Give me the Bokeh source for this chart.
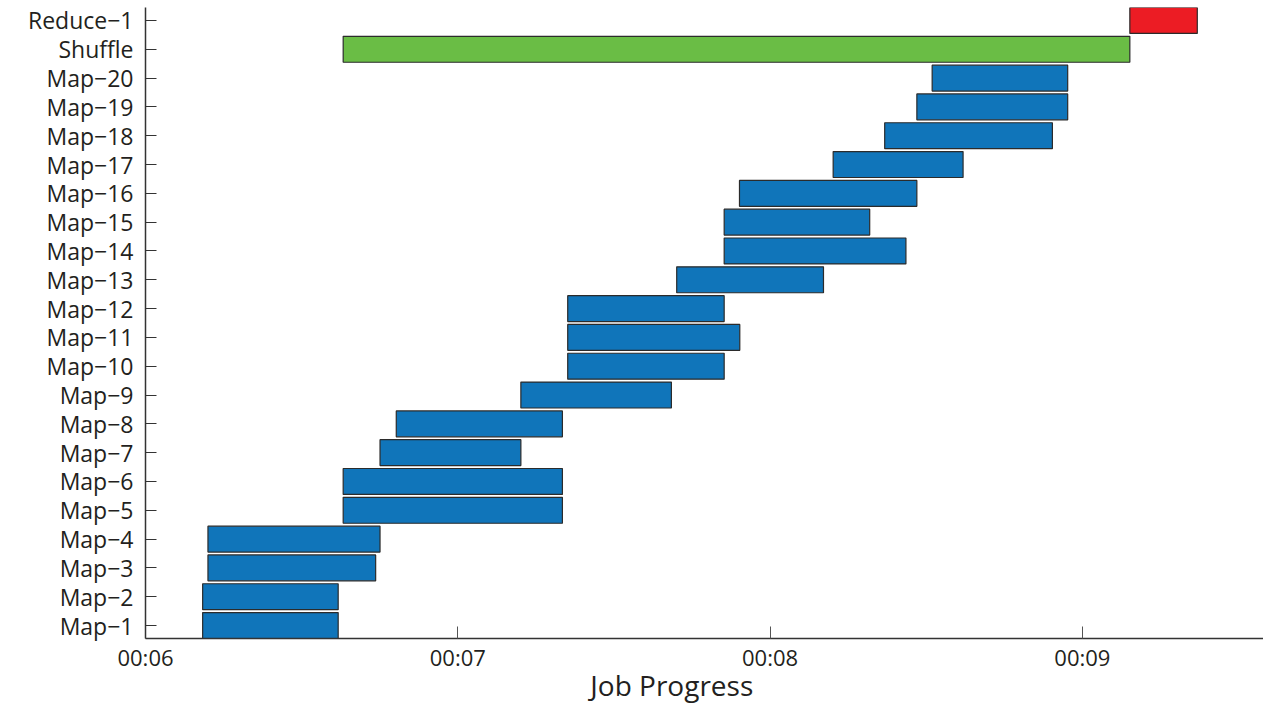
import numpy as np
from bokeh.plotting import figure
from bokeh.models import FixedTicker, ColumnDataSource, Range1d
from bokeh.embed import file_html
from bokeh.resources import INLINE

# ---- data (seconds) ----
tasks = ["Map−1", "Map−2", "Map−3", "Map−4", "Map−5", "Map−6", "Map−7", "Map−8",
         "Map−9", "Map−10", "Map−11", "Map−12", "Map−13", "Map−14", "Map−15",
         "Map−16", "Map−17", "Map−18", "Map−19", "Map−20", "Shuffle", "Reduce−1"]
starts = [6.183, 6.183, 6.200, 6.200, 6.633, 6.633, 6.751, 6.803,
          7.202, 7.352, 7.352, 7.352, 7.701, 7.853, 7.853,
          7.902, 8.202, 8.367, 8.470, 8.519, 6.633, 9.152]
ends = [6.617, 6.617, 6.737, 6.751, 7.335, 7.335, 7.202, 7.335,
        7.684, 7.853, 7.903, 7.853, 8.171, 8.435, 8.319,
        8.470, 8.618, 8.904, 8.953, 8.953, 9.152, 9.368]
kinds = ["map"] * 20 + ["shuffle", "reduce"]
kind_colors = {"map": "#1075BA", "shuffle": "#6ABD45", "reduce": "#EC1C24"}
x_ticks = [6, 7, 8, 9]
x_tick_labels = ["00:06", "00:07", "00:08", "00:09"]
x_title = "Job Progress"

ypos = list(range(1, len(tasks) + 1))
src = ColumnDataSource(dict(y=ypos, left=starts, right=ends,
                            color=[kind_colors[k] for k in kinds]))

FONT = "Open Sans"
TXT = "#231F20"

p = figure(width=1263, height=706, output_backend="svg", toolbar_location=None,
           x_range=Range1d(6.0, 9.58), y_range=Range1d(0.55, 22.45),
           min_border_left=145, min_border_right=0, min_border_top=7,
           min_border_bottom=67)
p.outline_line_color = None
p.xgrid.visible = False
p.ygrid.visible = False
p.background_fill_color = "white"
p.border_fill_color = "white"

p.hbar(y="y", left="left", right="right", height=0.9, fill_color="color",
       line_color="#2b2b2b", line_width=1.2, source=src)

xa = p.xaxis[0]
xa.ticker = FixedTicker(ticks=x_ticks)
xa.major_label_overrides = {t: l for t, l in zip(x_ticks, x_tick_labels)}
xa.minor_tick_line_color = None
xa.major_tick_in = 12
xa.major_tick_out = 0
xa.axis_line_color = "#333333"
xa.axis_line_width = 1.5
xa.major_tick_line_color = "#555555"
xa.major_label_text_font = FONT
xa.major_label_text_font_size = "22px"
xa.major_label_text_color = TXT
xa.major_label_standoff = 3
# trailing no-break spaces shift the centred title left, as in the reference
xa.axis_label = x_title + "\u00a0" * 9
xa.axis_label_text_font = FONT
xa.axis_label_text_font_size = "28px"
xa.axis_label_text_font_style = "normal"
xa.axis_label_text_color = TXT
xa.axis_label_standoff = -9

ya = p.yaxis[0]
ya.ticker = FixedTicker(ticks=ypos)
ya.major_label_overrides = {y: t for y, t in zip(ypos, tasks)}
ya.minor_tick_line_color = None
ya.major_tick_in = 11
ya.major_tick_out = 0
ya.axis_line_color = "#333333"
ya.axis_line_width = 1.5
ya.major_tick_line_color = "#333333"
ya.major_label_text_font = FONT
ya.major_label_text_font_size = "23px"
ya.major_label_text_color = TXT
ya.major_label_standoff = 12

open("out.html", "w").write(file_html(p, INLINE))
